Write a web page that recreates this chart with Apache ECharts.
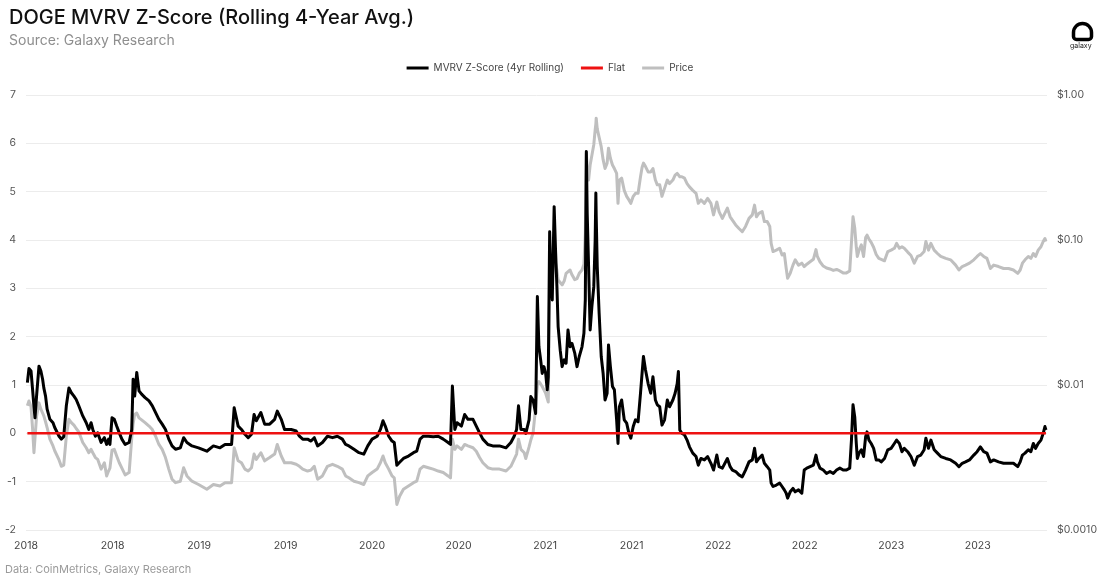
<!DOCTYPE html>
<html>
<head>
<meta charset="utf-8">
<script src="https://cdn.jsdelivr.net/npm/echarts@6/dist/echarts.min.js"></script>
<style>
html,body{margin:0;padding:0;background:#fff;}
#chart{width:1100px;height:586px;}
</style>
</head>
<body>
<div id="chart"></div>
<script>
// Decimal-year dates (shared by both series)
const dates = [
2018.068,2018.077,2018.089,2018.098,2018.106,2018.112,2018.121,2018.135,2018.146,2018.156,2018.163,2018.173,2018.182,2018.198,2018.216,2018.226,2018.236,2018.251,2018.264,2018.278,2018.293,2018.308,2018.322,2018.337,2018.350,2018.365,2018.388,2018.408,2018.423,2018.436,2018.446,2018.461,2018.474,2018.494,2018.513,2018.526,2018.537,2018.545,2018.557,2018.570,2018.584,2018.599,2018.614,2018.633,2018.656,2018.671,2018.679,2018.688,2018.700,2018.713,2018.728,2018.748,2018.771,2018.790,2018.809,2018.828,2018.847,2018.866,2018.885,2018.904,2018.924,2018.952,2018.971,2018.990,2019.019,2019.057,2019.105,2019.143,2019.181,2019.210,2019.248,2019.263,2019.286,2019.305,2019.325,2019.344,2019.363,2019.378,2019.391,2019.417,2019.439,2019.468,2019.497,2019.512,2019.535,2019.554,
2019.563,2019.592,2019.621,2019.640,2019.659,2019.687,2019.707,2019.726,2019.745,2019.773,2019.802,2019.831,2019.859,2019.888,2019.907,2019.926,2019.955,2019.984,2020.012,2020.035,2020.060,2020.089,2020.108,2020.123,2020.136,2020.156,2020.175,2020.188,2020.203,2020.219,2020.241,2020.270,2020.299,2020.318,2020.337,2020.356,2020.385,2020.413,2020.442,2020.471,2020.499,2020.513,2020.524,2020.538,2020.551,2020.576,2020.595,2020.614,2020.643,2020.662,2020.681,2020.700,2020.729,2020.757,2020.796,2020.834,2020.862,2020.881,2020.895,2020.906,2020.920,2020.939,
2020.948,2020.967,2020.977,2020.990,2021.005,2021.015,2021.024,2021.034,2021.043,2021.053,2021.063,2021.072,2021.078,2021.086,2021.093,2021.101,2021.112,2021.120,2021.128,2021.135,2021.147,2021.158,2021.170,2021.181,2021.192,2021.204,2021.215,2021.231,2021.244,2021.257,2021.273,2021.284,2021.292,2021.298,2021.303,2021.311,2021.320,2021.330,2021.341,2021.349,2021.353,2021.355,2021.361,2021.372,2021.384,2021.395,2021.406,2021.418,2021.426,2021.437,2021.449,2021.460,2021.473,2021.481,2021.489,2021.502,2021.517,2021.531,2021.544,2021.555,2021.569,2021.582,2021.597,2021.611,2021.620,2021.628,2021.640,2021.655,2021.670,2021.683,2021.697,2021.708,2021.722,2021.735,2021.750,2021.766,2021.779,2021.798,2021.811,2021.823,2021.830,2021.838,2021.850,2021.865,2021.880,2021.894,2021.913,2021.932,2021.945,2021.960,2021.980,2021.999,2022.018,2022.033,2022.052,2022.065,2022.084,
2022.094,2022.113,2022.129,2022.142,2022.161,2022.180,2022.199,2022.218,2022.238,2022.257,2022.270,2022.281,2022.295,2022.314,2022.327,2022.343,2022.358,2022.366,2022.377,2022.396,2022.415,2022.429,2022.442,2022.453,2022.461,2022.476,2022.492,2022.505,2022.524,2022.543,2022.557,2022.572,2022.591,2022.610,2022.625,2022.633,2022.648,2022.667,2022.686,2022.706,2022.725,2022.744,2022.763,2022.782,2022.801,2022.820,2022.830,2022.839,2022.849,2022.858,2022.864,2022.874,2022.887,2022.900,2022.912,2022.920,2022.931,2022.944,2022.958,2022.973,2022.988,2023.002,2023.021,2023.040,2023.059,2023.078,2023.091,2023.107,2023.122,2023.135,2023.155,2023.174,
2023.193,2023.212,2023.231,2023.250,2023.260,2023.275,2023.289,2023.308,2023.327,2023.346,2023.375,2023.403,2023.432,2023.451,2023.470,2023.489,2023.512,2023.537,2023.556,2023.575,2023.594,2023.613,2023.633,2023.652,2023.680,2023.709,2023.738,2023.766,2023.791,2023.805,2023.818,2023.833,2023.852,2023.867,2023.881,2023.894,2023.909,2023.925,2023.938,2023.948,2023.954
];

// MVRV Z-Score (4yr Rolling)
const zScore = [
1.05,1.34,1.29,0.91,0.55,0.32,0.77,1.39,1.29,1.12,0.94,0.77,0.50,0.29,0.22,0.12,0.08,-0.06,-0.12,-0.07,0.57,0.94,0.84,0.77,0.70,0.57,0.36,0.22,0.08,0.22,0.08,-0.06,0.01,-0.19,-0.09,-0.23,-0.12,-0.23,0.32,0.29,0.15,0.01,-0.12,-0.23,-0.19,0.08,1.12,0.77,1.26,0.88,0.81,0.74,0.67,0.57,0.43,0.29,0.19,0.08,-0.12,-0.26,-0.33,-0.30,-0.09,-0.19,-0.26,-0.30,-0.37,-0.26,-0.30,-0.23,-0.23,0.53,0.15,0.08,-0.02,-0.09,-0.02,0.39,0.26,0.43,0.19,0.19,0.29,0.46,0.29,0.08,
0.08,0.08,0.05,-0.06,-0.12,-0.12,-0.16,-0.09,-0.26,-0.19,-0.06,-0.09,-0.06,-0.12,-0.23,-0.26,-0.33,-0.40,-0.43,-0.26,-0.12,-0.06,0.08,0.26,0.15,-0.06,-0.16,-0.19,-0.66,-0.60,-0.52,-0.47,-0.40,-0.37,-0.12,-0.06,-0.06,-0.07,-0.06,-0.12,-0.19,-0.23,0.98,0.08,0.22,0.15,0.39,0.29,0.29,0.15,0.01,-0.12,-0.23,-0.26,-0.26,-0.30,-0.19,-0.06,0.08,0.57,0.08,0.08,
0.00,0.28,0.76,0.69,0.41,2.83,1.79,1.52,1.24,1.38,1.24,0.90,1.17,4.17,3.10,2.76,4.69,3.79,3.03,2.21,1.72,1.38,1.52,1.45,2.14,1.79,1.86,1.66,1.38,1.59,1.79,2.07,2.76,5.83,4.55,3.45,2.14,2.62,3.03,4.00,4.97,4.50,3.45,2.48,1.59,1.24,0.69,0.83,1.83,1.38,0.97,0.90,0.28,-0.21,0.55,0.69,0.28,0.21,0.00,-0.10,0.14,0.28,0.24,0.83,1.24,1.59,1.31,1.03,0.83,1.17,0.69,0.59,0.55,0.17,0.28,0.69,0.55,0.69,0.83,1.03,1.28,0.07,0.00,-0.03,-0.14,-0.28,-0.41,-0.48,-0.66,-0.52,-0.55,-0.48,-0.62,-0.76,-0.45,-0.69,-0.72,
-0.76,-0.52,-0.69,-0.76,-0.79,-0.86,-0.90,-0.76,-0.59,-0.55,-0.31,-0.59,-0.52,-0.45,-0.62,-0.69,-0.76,-1.03,-1.10,-1.07,-1.03,-1.10,-1.17,-1.24,-1.34,-1.21,-1.14,-1.21,-1.17,-1.24,-0.76,-0.72,-0.69,-0.66,-0.45,-0.59,-0.72,-0.76,-0.83,-0.79,-0.83,-0.76,-0.72,-0.76,-0.76,-0.72,-0.14,0.59,0.34,-0.21,-0.52,-0.41,-0.34,-0.48,-0.07,0.03,-0.14,-0.21,-0.31,-0.55,-0.55,-0.59,-0.52,-0.34,-0.31,-0.21,-0.14,-0.21,-0.38,-0.31,-0.38,-0.48,
-0.66,-0.48,-0.45,-0.34,-0.10,-0.31,-0.14,-0.34,-0.41,-0.48,-0.52,-0.55,-0.62,-0.69,-0.62,-0.59,-0.55,-0.45,-0.38,-0.28,-0.38,-0.41,-0.59,-0.55,-0.59,-0.62,-0.62,-0.62,-0.69,-0.59,-0.45,-0.41,-0.34,-0.38,-0.21,-0.31,-0.21,-0.14,0.00,0.14,0.07
];

// DOGE price, USD
const price = [
0.00719,0.00776,0.00708,0.00501,0.00341,0.00430,0.00607,0.00753,0.00681,0.00641,0.00612,0.00558,0.00509,0.00423,0.00380,0.00352,0.00341,0.00304,0.00275,0.00280,0.00443,0.00580,0.00550,0.00529,0.00501,0.00475,0.00401,0.00369,0.00341,0.00360,0.00341,0.00316,0.00307,0.00263,0.00291,0.00236,0.00255,0.00267,0.00355,0.00360,0.00324,0.00291,0.00267,0.00240,0.00249,0.00430,0.00541,0.00626,0.00641,0.00593,0.00575,0.00550,0.00521,0.00493,0.00443,0.00389,0.00360,0.00316,0.00263,0.00224,0.00212,0.00217,0.00269,0.00236,0.00217,0.00206,0.00191,0.00206,0.00201,0.00212,0.00212,0.00369,0.00300,0.00291,0.00263,0.00255,0.00269,0.00334,0.00307,0.00341,0.00300,0.00316,0.00334,0.00389,0.00324,0.00291,
0.00300,0.00291,0.00284,0.00275,0.00263,0.00255,0.00259,0.00275,0.00224,0.00236,0.00275,0.00284,0.00275,0.00263,0.00236,0.00229,0.00217,0.00212,0.00206,0.00236,0.00249,0.00263,0.00291,0.00324,0.00291,0.00263,0.00236,0.00229,0.00150,0.00171,0.00191,0.00201,0.00212,0.00217,0.00263,0.00275,0.00269,0.00263,0.00255,0.00249,0.00236,0.00229,0.00423,0.00360,0.00380,0.00360,0.00389,0.00380,0.00369,0.00349,0.00316,0.00291,0.00269,0.00263,0.00263,0.00255,0.00275,0.00307,0.00334,0.00423,0.00360,0.00341,
0.00311,0.00374,0.00417,0.00464,0.00700,0.0100,0.01055,0.01016,0.00977,0.00926,0.00877,0.00807,0.00764,0.0475,0.0447,0.0541,0.0807,0.0692,0.0621,0.0529,0.0509,0.0490,0.0521,0.0589,0.0607,0.0621,0.0575,0.0533,0.0541,0.0589,0.0621,0.0681,0.1113,0.395,0.316,0.259,0.329,0.339,0.454,0.575,0.631,0.692,0.584,0.575,0.440,0.358,0.311,0.339,0.430,0.366,0.329,0.311,0.288,0.179,0.259,0.267,0.220,0.200,0.189,0.179,0.200,0.210,0.210,0.273,0.316,0.339,0.321,0.295,0.295,0.311,0.259,0.240,0.240,0.200,0.227,0.259,0.245,0.259,0.280,0.288,0.295,0.273,0.273,0.267,0.245,0.2325,0.220,0.210,0.179,0.189,0.179,0.1935,0.179,0.149,0.183,0.157,0.141,
0.141,0.166,0.1445,0.137,0.127,0.120,0.114,0.124,0.141,0.149,0.174,0.1445,0.1525,0.157,0.134,0.134,0.124,0.0948,0.0832,0.0851,0.0877,0.0788,0.0807,0.0636,0.0545,0.0589,0.0671,0.0730,0.0671,0.0692,0.0656,0.0681,0.0708,0.0736,0.0858,0.0770,0.0708,0.0661,0.0641,0.0631,0.0617,0.0626,0.0612,0.0593,0.0593,0.0612,0.0962,0.1445,0.121,0.0891,0.0770,0.0851,0.0926,0.0770,0.1039,0.1080,0.1016,0.0962,0.0891,0.0794,0.0747,0.0736,0.0719,0.0832,0.0851,0.0877,0.0948,0.0877,0.0898,0.0877,0.0825,0.0782,
0.0692,0.0770,0.0788,0.0832,0.0977,0.0851,0.0948,0.0851,0.0807,0.0770,0.0747,0.0730,0.0671,0.0621,0.0656,0.0671,0.0692,0.0730,0.0770,0.0807,0.0770,0.0747,0.0636,0.0671,0.0656,0.0636,0.0636,0.0621,0.0589,0.0621,0.0692,0.0730,0.0770,0.0747,0.0807,0.0770,0.0851,0.0898,0.0977,0.1023,0.0977
];

// Flat reference line
const flatDates = [2018.068, 2023.954];
const flatValues = [0, 0];

// Axis settings / tick labels
const X_START = 2018.06;
const X_SPAN = 5.9;
const leftTicks = [-2, -1, 0, 1, 2, 3, 4, 5, 6, 7];
const rightTickValues = [0.001, 0.01, 0.1, 1];
const rightTickLabels = ['$0.0010', '$0.01', '$0.10', '$1.00'];

const FONT = 'Inter, "Noto Sans", sans-serif';

const toPairs = (xs, ys) => xs.map((d, i) => [d - X_START, ys[i]]);

const chart = echarts.init(document.getElementById('chart'), null, {renderer: 'canvas'});
chart.setOption({
  backgroundColor: '#ffffff',
  animation: false,
  textStyle: {fontFamily: FONT},
  title: {
    left: 4, top: 3,
    text: 'DOGE MVRV Z-Score (Rolling 4-Year Avg.)',
    subtext: 'Source: Galaxy Research',
    itemGap: 6,
    textStyle: {fontFamily: FONT, fontSize: 20, fontWeight: 500, color: '#111111'},
    subtextStyle: {fontFamily: FONT, fontSize: 14, color: '#8e8e8e'}
  },
  legend: {
    top: 58, left: 'center',
    itemWidth: 22, itemHeight: 3, itemGap: 17,
    icon: 'rect',
    textStyle: {fontFamily: FONT, fontSize: 10, color: '#444444'},
    data: ['MVRV Z-Score (4yr Rolling)', 'Flat', 'Price']
  },
  grid: {left: 26, right: 44, top: 95, bottom: 56, containLabel: false},
  xAxis: {
    type: 'value', min: 0, max: X_SPAN, interval: 0.5,
    axisLine: {show: false}, axisTick: {show: false}, splitLine: {show: false},
    axisLabel: {
      color: '#444444', fontSize: 10.5, margin: 10, fontFamily: FONT,
      showMaxLabel: false,
      formatter: v => String(Math.floor(X_START + v + 1e-9))
    }
  },
  yAxis: [
    {
      type: 'value', min: leftTicks[0], max: leftTicks[leftTicks.length - 1], interval: 1,
      axisLine: {show: false}, axisTick: {show: false},
      splitLine: {show: true, lineStyle: {color: '#ececec', width: 1}},
      axisLabel: {color: '#555555', fontSize: 10.5, margin: 10, fontFamily: FONT}
    },
    {
      type: 'log', logBase: 10, min: rightTickValues[0], max: rightTickValues[rightTickValues.length - 1],
      position: 'right',
      axisLine: {show: false}, axisTick: {show: false}, splitLine: {show: false},
      axisLabel: {
        color: '#555555', fontSize: 10.5, margin: 10, fontFamily: FONT,
        formatter: v => {
          let best = 0;
          rightTickValues.forEach((t, i) => { if (Math.abs(Math.log10(t) - Math.log10(v)) < Math.abs(Math.log10(rightTickValues[best]) - Math.log10(v))) best = i; });
          return rightTickLabels[best];
        }
      }
    }
  ],
  series: [
    {
      name: 'Price', type: 'line', yAxisIndex: 1, showSymbol: false, symbol: 'none',
      data: toPairs(dates, price),
      lineStyle: {color: '#bfbfbf', width: 3, join: 'round'},
      itemStyle: {color: '#bfbfbf'}, z: 2
    },
    {
      name: 'MVRV Z-Score (4yr Rolling)', type: 'line', yAxisIndex: 0, showSymbol: false, symbol: 'none',
      data: toPairs(dates, zScore),
      lineStyle: {color: '#000000', width: 3, join: 'round'},
      itemStyle: {color: '#000000'}, z: 3
    },
    {
      name: 'Flat', type: 'line', yAxisIndex: 0, showSymbol: false, symbol: 'none',
      data: toPairs(flatDates, flatValues),
      lineStyle: {color: '#ee1111', width: 2.5},
      itemStyle: {color: '#ee1111'}, z: 4
    }
  ],
  graphic: [
    {
      type: 'rect', left: 1071, top: 21,
      shape: {width: 18, height: 16, r: [9, 9, 3, 3]},
      style: {fill: 'none', stroke: '#000000', lineWidth: 3.5}
    },
    {
      type: 'text', left: 1070, top: 42,
      style: {text: 'galaxy', fontSize: 7, fill: '#222222', fontFamily: FONT}
    },
    {
      type: 'text', left: 5, top: 564,
      style: {text: 'Data: CoinMetrics, Galaxy Research', fontSize: 11, fill: '#9a9a9a', fontFamily: FONT}
    }
  ]
});
</script>
</body>
</html>
